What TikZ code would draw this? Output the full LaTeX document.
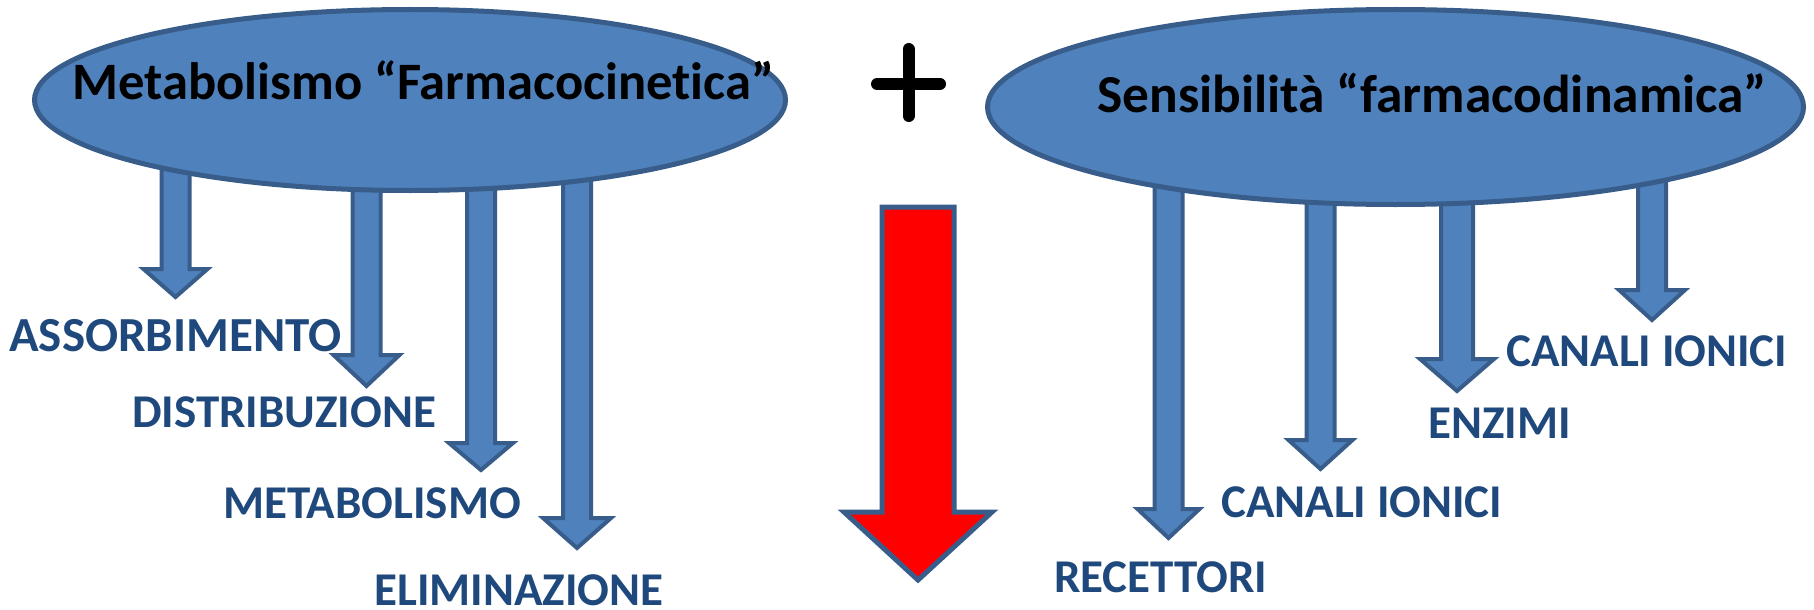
\documentclass[tikz,border=0pt]{standalone}
\usepackage{fontspec}
\setmainfont{Carlito}[Ligatures={NoCommon}]
\usetikzlibrary{shapes.geometric}
\definecolor{fillblue}{HTML}{4F81BD}
\definecolor{edgeblue}{HTML}{385D8A}
\definecolor{labelblue}{HTML}{1F497D}
\definecolor{arrowred}{HTML}{FF0000}
% block arrow: #1 centre x, #2 top y, #3 head top y, #4 tip y, #5 shaft half, #6 head half, #7 style
\newcommand{\blockarr}[7]{%
  \draw[#7] (#1-#5,#2) -- (#1+#5,#2) -- (#1+#5,#3) -- (#1+#6,#3) -- (#1,#4)
    -- (#1-#6,#3) -- (#1-#5,#3) -- cycle;}
\tikzset{
  bluearrow/.style={fill=fillblue, draw=edgeblue, line width=4pt, line join=miter},
  redarrow/.style={fill=arrowred, draw=edgeblue, line width=5pt, line join=miter},
  oval/.style={ellipse, fill=fillblue, draw=edgeblue, line width=5pt, inner sep=0pt},
  header/.style={anchor=base west, inner sep=0pt, text=black, font=\bfseries\fontsize{52.6}{56}\selectfont},
  lbl/.style={anchor=base west, inner sep=0pt, text=labelblue, font=\bfseries\fontsize{47}{50}\selectfont},
}
\begin{document}
\begin{tikzpicture}[x=1pt,y=-1pt]
\useasboundingbox (0,0) rectangle (1814,610);
% arrows (behind the ovals)
\blockarr{175.5}{150}{269}{297}{14}{32}{bluearrow}
\blockarr{366.5}{150}{355}{386}{14}{33}{bluearrow}
\blockarr{481}{150}{443}{470}{14}{32}{bluearrow}
\blockarr{577}{150}{518}{548}{14}{34}{bluearrow}
\blockarr{1168.5}{160}{509}{538}{14}{31}{bluearrow}
\blockarr{1320.5}{160}{440}{469}{14}{32}{bluearrow}
\blockarr{1457}{160}{359}{391}{16}{37}{bluearrow}
\blockarr{1652}{160}{290}{320}{14}{33}{bluearrow}
\blockarr{918}{207}{512}{580}{36}{74}{redarrow}
% ovals
\node[oval, minimum width=751pt, minimum height=181pt] (pk) at (410,100) {};
\node[oval, minimum width=816pt, minimum height=195pt] (pd) at (1395.5,107) {};
% headers
\node[header] (pkt) at (72,99) {Metabolismo “Farmacocinetica”};
\node[header, font=\bfseries\fontsize{53.4}{56}\selectfont] (pdt) at (1097,112) {Sensibilità “farmacodinamica”};
% plus sign
\coordinate (pc) at (908.5,84);
\draw[line width=12pt, line cap=round] ([xshift=-31.5pt]pc) -- ([xshift=31.5pt]pc);
\draw[line width=12pt, line cap=round] ([yshift=35pt]pc) -- ([yshift=-32pt]pc);
% labels
\node[lbl, font=\bfseries\fontsize{49}{50}\selectfont] (l1) at (9,351) {ASSORBIMENTO};
\node[lbl] (l2) at (132,427) {DISTRIBUZIONE};
\node[lbl] (l3) at (223,518) {METABOLISMO};
\node[lbl] (l4) at (374,605) {ELIMINAZIONE};
\node[lbl] (r1) at (1054,592) {RECETTORI};
\node[lbl] (r2) at (1221,517) {CANALI IONICI};
\node[lbl] (r3) at (1428,438) {ENZIMI};
\node[lbl] (r4) at (1506,366) {CANALI IONICI};
\end{tikzpicture}
\end{document}
